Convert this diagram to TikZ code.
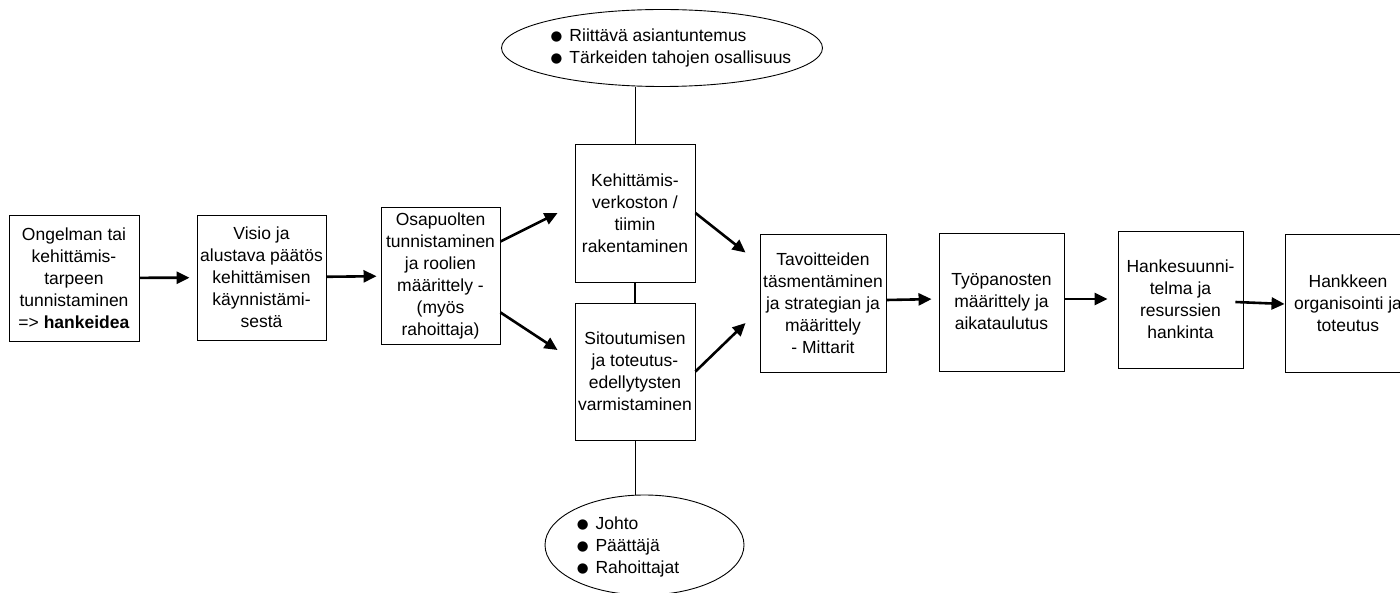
\documentclass[tikz,border=0pt]{standalone}
\usepackage{fontspec}
\setmainfont{Liberation Sans}
\newfontfamily\dejavu{DejaVu Sans}
\usetikzlibrary{arrows.meta,shapes.geometric}
\newcommand{\bul}{\raisebox{1.2pt}{\dejavu\fontsize{13.5}{13.5}\selectfont ●}\hspace{7pt}}
\begin{document}
\begin{tikzpicture}[x=1pt,y=-1pt,
  box/.style={draw, line width=0.9pt, align=center, inner sep=1pt,
    font=\fontsize{17.5}{22}\selectfont},
  arr/.style={line width=2.6pt, -{Triangle[length=13pt,width=12pt]}},
  thinline/.style={line width=0.9pt},
  thickline/.style={line width=2.6pt},
  oval/.style={draw, ellipse, line width=0.9pt, inner sep=0pt},
  bultext/.style={align=left, inner sep=0pt, font=\fontsize{17.5}{22}\selectfont}]
\useasboundingbox (0,0) rectangle (1400,593);
\clip (0,0) rectangle (1400,593);
\fill[white] (0,0) rectangle (1400,593);

\node[box, minimum width=130, minimum height=126] (b1) at (74,278)
  {Ongelman tai\\kehittämis-\\tarpeen\\tunnistaminen\\=> \textbf{hankeidea}};
\node[box, minimum width=129, minimum height=125] (b2) at (261.5,277.5)
  {Visio ja\\alustava päätös\\kehittämisen\\käynnistämi-\\sestä};
\node[box, minimum width=119, minimum height=137] (b3) at (440.5,275.5)
  {Osapuolten\\tunnistaminen\\ja roolien\\määrittely -\\(myös\\rahoittaja)};
\node[box, minimum width=120, minimum height=138] (b4) at (635,213)
  {Kehittämis-\\verkoston /\\tiimin\\rakentaminen};
\node[box, minimum width=120, minimum height=137] (b5) at (635,371.5)
  {Sitoutumisen\\ja toteutus-\\edellytysten\\varmistaminen};
\node[box, minimum width=126, minimum height=138] (b6) at (823,303)
  {Tavoitteiden\\täsmentäminen\\ja strategian ja\\määrittely\\- Mittarit};
\node[box, minimum width=125, minimum height=138] (b7) at (1001.5,302)
  {Työpanosten\\määrittely ja\\aikataulutus};
\node[box, minimum width=125, minimum height=137] (b8) at (1180.5,299.5)
  {Hankesuunni-\\telma ja\\resurssien\\hankinta};
\node[box, minimum width=126, minimum height=138] (b9) at (1348,303)
  {Hankkeen\\organisointi ja\\toteutus};

\node[oval, minimum width=321, minimum height=77] (top) at (662,48) {};
\node[bultext] (toptext) at (671,48)
  {\bul Riittävä asiantuntemus\\\bul Tärkeiden tahojen osallisuus};
\node[oval, minimum width=199, minimum height=100] (bot) at (644.5,545) {};
\node[bultext] (bottext) at (628,547)
  {\bul Johto\\\bul Päättäjä\\\bul Rahoittajat};

\draw[arr, shorten >=7pt] (b1) -- (b2);
\draw[arr, shorten >=4pt] (b2) -- (b3);
\draw[arr] ([yshift=-35pt]b3.north east) -- ([xshift=-17pt]b4.west);
\draw[arr] ([yshift=32pt]b3.south east) -- ([xshift=-17pt,yshift=21.5pt]b5.west);
\draw[arr] (b4.east) -- ([xshift=-14pt,yshift=-19pt]b6.north west);
\draw[arr] (b5.east) -- ([xshift=-14pt,yshift=-20pt]b6.west);
\draw[arr, shorten >=7pt] ([yshift=3pt]b6.east) -- ([yshift=3pt]b7.west);
\draw[arr, shorten >=10pt] ([yshift=3pt]b7.east) -- ([yshift=0.5pt]b8.west);
\draw[arr] ([xshift=-8pt,yshift=-2.5pt]b8.east) -- ([yshift=-1pt]b9.west);

\draw[thickline] (b4.south) -- (b5.north);
\draw[thinline] (b4.north) -- (b4.north |- top.south);
\draw[thinline] (b5.south) -- (b5.south |- bot.north);
\end{tikzpicture}
\end{document}
